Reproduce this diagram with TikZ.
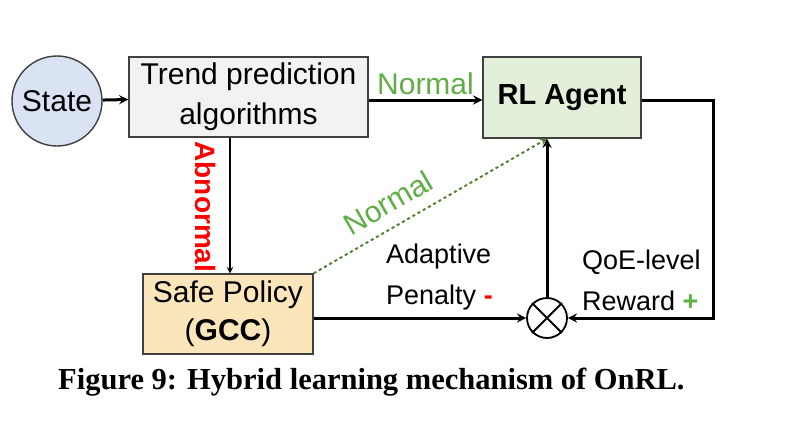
\documentclass[tikz,border=0pt]{standalone}
\usepackage{fontspec}
\setmainfont{Liberation Sans}
\newfontfamily\capfont{Liberation Serif}
\usetikzlibrary{shapes.misc}
\definecolor{stateblue}{HTML}{DAE3F3}
\definecolor{trendgray}{HTML}{F2F2F2}
\definecolor{agentgreen}{HTML}{E2F0D9}
\definecolor{safeyellow}{HTML}{FBE5BA}
\definecolor{okgreen}{HTML}{5FAE45}
\definecolor{dotgreen}{HTML}{548235}
\begin{document}
\begin{tikzpicture}[x=1pt,y=-1pt,>=stealth,
  box/.style={draw=black!75,line width=1.4pt,inner sep=0pt,align=center,font=\fontsize{30}{38}\selectfont},
  link/.style={->,line width=3pt},
  lab/.style={font=\fontsize{27}{32}\selectfont,inner sep=0pt}]
\useasboundingbox (0,0) rectangle (790,434);

\node[box,circle,fill=stateblue,minimum size=90pt] (state) at (57,101) {State};
\node[box,fill=trendgray,minimum width=239pt,minimum height=80pt] (trend) at (248.5,97) {Trend prediction\\[2pt]algorithms};
\node[box,fill=agentgreen,minimum width=158pt,minimum height=81pt,font=\fontsize{29}{34}\selectfont\bfseries] (agent) at (562,97.5) {RL Agent};
\node[box,fill=safeyellow,minimum width=170pt,minimum height=80pt] (safe) at (228,314) {Safe Policy\\(\textbf{GCC})};
\node[draw,cross out,line width=1.8pt,minimum size=28pt] (mix) at (547,318) {};
\node[draw,circle,line width=1.8pt,minimum size=40pt] (ot) at (547,318) {};

\draw[link] (state) -- (trend);
\draw[link] (trend.east |- 0,100) -- node[lab,above=4pt,text=okgreen,font=\fontsize{30}{34}\selectfont]{Normal} (agent.west |- 0,100);
\draw[->,line width=1.8pt] (trend.south -| 230,0) -- (safe.north -| 230,0);
\node[lab,rotate=-90,text=red,font=\fontsize{28}{34}\selectfont\bfseries] (abn) at (206,207) {Abnormal};
\draw[->,dash pattern=on 3pt off 3pt,line width=2pt,draw=dotgreen] (safe.north east) -- node[lab,sloped,above=12pt,pos=0.37,text=okgreen,font=\fontsize{30}{34}\selectfont]{Normal} (agent.south -| ot.north);
\draw[link] (safe.east |- ot) -- (ot.west);
\draw[link] (ot.north) -- (agent.south -| ot.north);
\draw[link] (agent.east |- 0,100) -| (713,318) -- (ot.east);

\node[lab,anchor=west] (adapt) at (386,257) {Adaptive};
\node[lab,anchor=west] (pen) at (386,298) {Penalty \textcolor{red}{\textbf{-}}};
\node[lab,anchor=west] (qoe) at (582,262) {QoE-level};
\node[lab,anchor=west] (rew) at (582,301) {Reward \textcolor{okgreen}{\textbf{+}}};

\node[anchor=west,inner sep=0pt,font=\capfont\bfseries\fontsize{30.5}{34}\selectfont] (cap) at (58,382) {Figure 9: Hybrid learning mechanism of OnRL.};
\end{tikzpicture}
\end{document}
